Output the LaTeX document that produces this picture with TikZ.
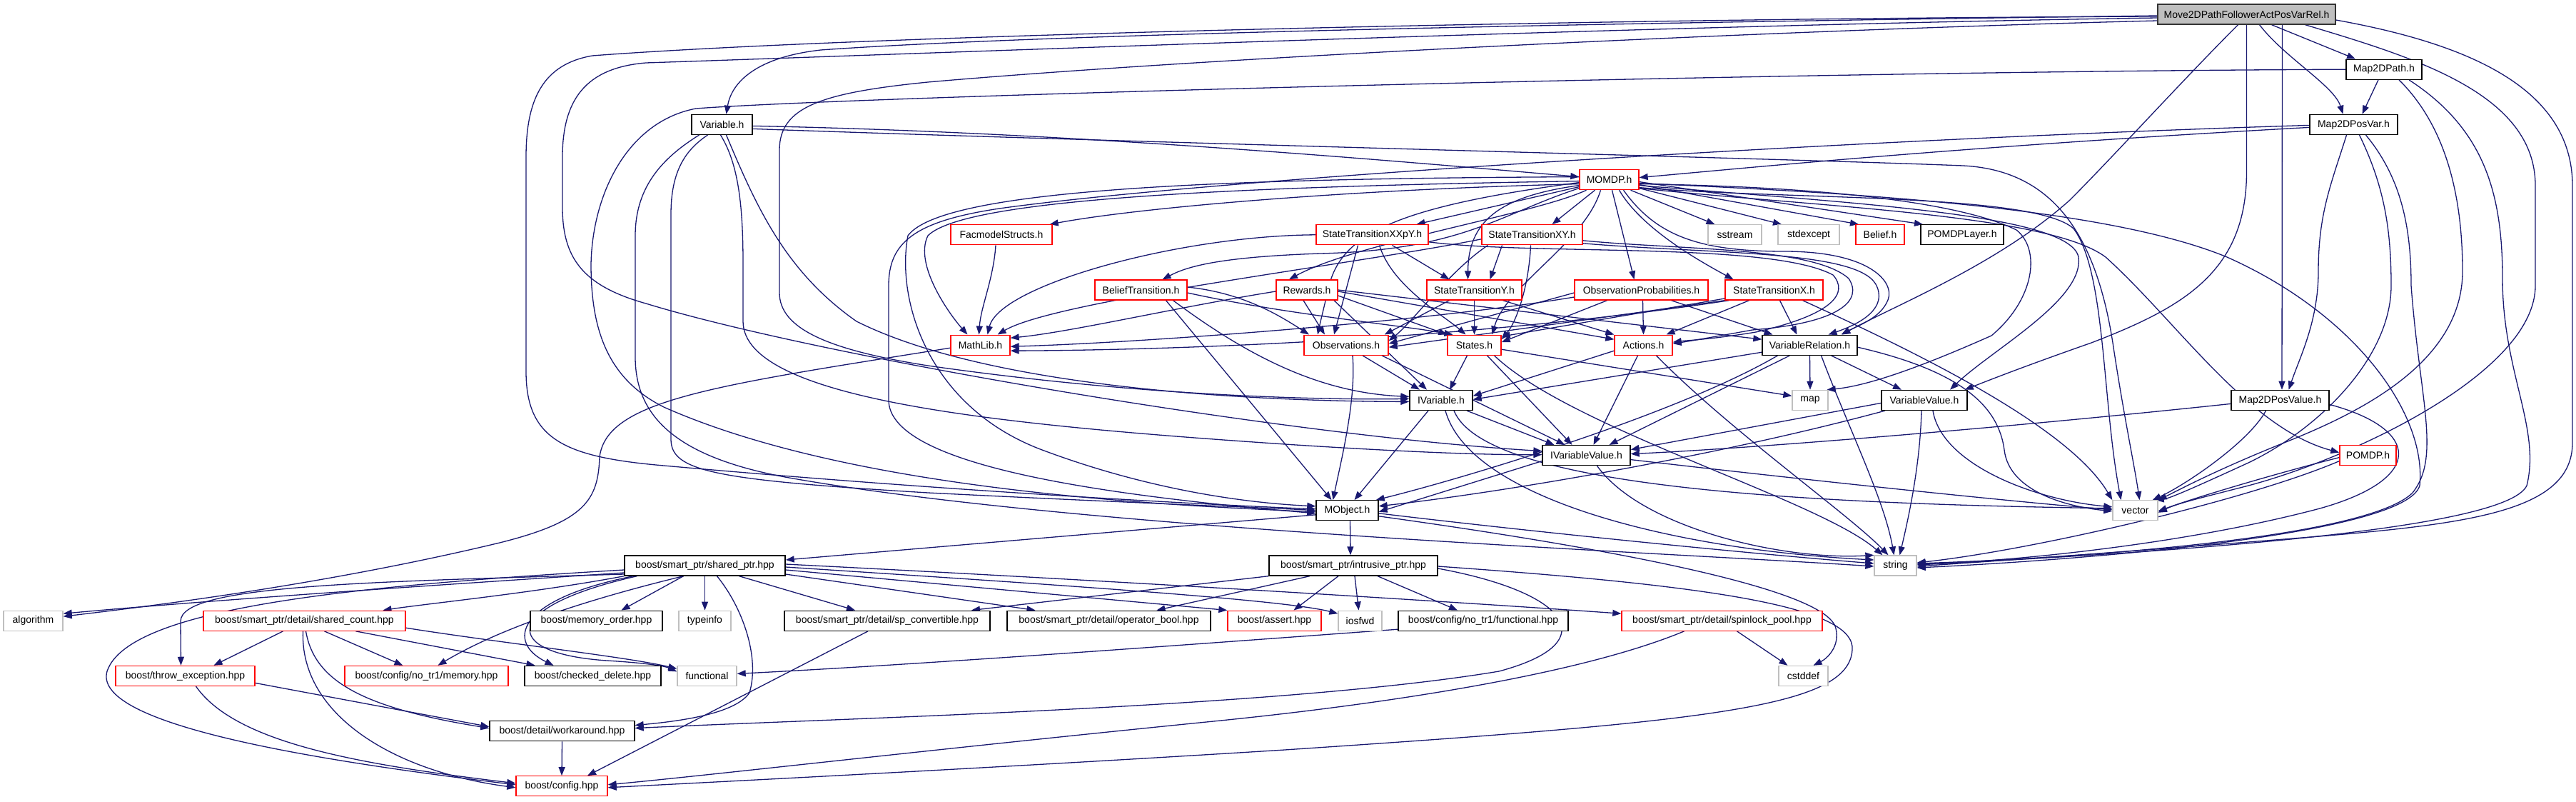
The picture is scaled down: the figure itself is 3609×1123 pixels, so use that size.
\documentclass[tikz,border=0pt]{standalone}
\usepackage{fontspec}
\setmainfont{Liberation Sans}
\usetikzlibrary{arrows.meta}
\definecolor{edgec}{HTML}{191970}
\definecolor{redc}{HTML}{FF0000}
\definecolor{grayc}{HTML}{BFBFBF}
\pgfdeclarelayer{bg}
\pgfsetlayers{bg,main}
\tikzset{
 nbox/.style={draw=black, line width=1.35pt, fill=white, minimum height=28pt, inner sep=0pt, font=\fontsize{14}{16}\selectfont},
 rbox/.style={nbox, draw=redc},
 gbox/.style={nbox, draw=grayc},
 mbox/.style={nbox, fill=grayc, draw=black!80},
 edg/.style={draw=edgec, line width=1.3pt, -{Triangle[length=12pt,width=9pt]}},
}
\begin{document}
\begin{tikzpicture}[x=1pt,y=-1pt]
\useasboundingbox (0,0) rectangle (3609,1123);
% nodes
\node[mbox, minimum width=249pt] (M) at (3147.5,20) {Move2DPathFollowerActPosVarRel.h};
\node[nbox, minimum width=106pt] (MP) at (3340,97.2) {Map2DPath.h};
\node[nbox, minimum width=123pt] (MPV) at (3297.5,174.4) {Map2DPosVar.h};
\node[nbox, minimum width=85pt] (V) at (1011.5,174.4) {Variable.h};
\node[rbox, minimum width=83pt] (MOMDP) at (2254.5,251.6) {MOMDP.h};
\node[rbox, minimum width=142pt] (FS) at (1403,328.8) {FacmodelStructs.h};
\node[rbox, minimum width=157pt] (STXXpY) at (1922.5,328.8) {StateTransitionXXpY.h};
\node[rbox, minimum width=141pt] (STXY) at (2146.5,328.8) {StateTransitionXY.h};
\node[gbox, minimum width=75pt] (sstream) at (2430.5,328.8) {sstream};
\node[gbox, minimum width=86pt] (stdexcept) at (2534,328.8) {stdexcept};
\node[rbox, minimum width=68pt] (Belief) at (2634,328.8) {Belief.h};
\node[nbox, minimum width=116pt] (PL) at (2749,328.8) {POMDPLayer.h};
\node[rbox, minimum width=129pt] (BT) at (1598.5,406) {BeliefTransition.h};
\node[rbox, minimum width=86pt] (Rew) at (1831,406) {Rewards.h};
\node[rbox, minimum width=133pt] (STY) at (2065.5,406) {StateTransitionY.h};
\node[rbox, minimum width=187pt] (OP) at (2299.5,406) {ObservationProbabilities.h};
\node[rbox, minimum width=137pt] (STX) at (2485.5,406) {StateTransitionX.h};
\node[rbox, minimum width=83pt] (ML) at (1373.5,483.2) {MathLib.h};
\node[rbox, minimum width=118pt] (Obs) at (1886,483.2) {Observations.h};
\node[rbox, minimum width=75pt] (St) at (2065.5,483.2) {States.h};
\node[rbox, minimum width=81pt] (Act) at (2302.5,483.2) {Actions.h};
\node[nbox, minimum width=133pt] (VR) at (2535.5,483.2) {VariableRelation.h};
\node[nbox, minimum width=88pt] (IV) at (2019,560.4) {IVariable.h};
\node[gbox, minimum width=50pt] (map) at (2536,560.4) {map};
\node[nbox, minimum width=120pt] (VV) at (2696,560.4) {VariableValue.h};
\node[nbox, minimum width=137pt] (MPVal) at (3194.5,560.4) {Map2DPosValue.h};
\node[nbox, minimum width=123pt] (IVV) at (2222.5,637.6) {IVariableValue.h};
\node[rbox, minimum width=79pt] (POMDP) at (3317.5,637.6) {POMDP.h};
\node[nbox, minimum width=87pt] (MO) at (1887.5,714.8) {MObject.h};
\node[gbox, minimum width=63pt] (vector) at (2991.5,714.8) {vector};
\node[nbox, minimum width=225pt] (SP) at (987.5,792) {boost/smart\_ptr/shared\_ptr.hpp};
\node[nbox, minimum width=236pt] (IP) at (1896,792) {boost/smart\_ptr/intrusive\_ptr.hpp};
\node[gbox, minimum width=59pt] (string) at (2655.5,792) {string};
\node[gbox, minimum width=83pt] (algorithm) at (46.5,869.2) {algorithm};
\node[rbox, minimum width=283pt] (SC) at (426.5,869.2) {boost/smart\_ptr/detail/shared\_count.hpp};
\node[nbox, minimum width=185pt] (MemO) at (835.5,869.2) {boost/memory\_order.hpp};
\node[gbox, minimum width=73pt] (typeinfo) at (987.5,869.2) {typeinfo};
\node[nbox, minimum width=288pt] (SPC) at (1243,869.2) {boost/smart\_ptr/detail/sp\_convertible.hpp};
\node[nbox, minimum width=285pt] (OB) at (1553.5,869.2) {boost/smart\_ptr/detail/operator\_bool.hpp};
\node[rbox, minimum width=131pt] (assert) at (1785.5,869.2) {boost/assert.hpp};
\node[gbox, minimum width=61pt] (iosfwd) at (1905.5,869.2) {iosfwd};
\node[nbox, minimum width=238pt] (NTF) at (2078,869.2) {boost/config/no\_tr1/functional.hpp};
\node[rbox, minimum width=281pt] (SPP) at (2412.5,869.2) {boost/smart\_ptr/detail/spinlock\_pool.hpp};
\node[rbox, minimum width=195pt] (TE) at (259.5,946.4) {boost/throw\_exception.hpp};
\node[rbox, minimum width=229pt] (NTM) at (597.5,946.4) {boost/config/no\_tr1/memory.hpp};
\node[nbox, minimum width=191pt] (CD) at (830.5,946.4) {boost/checked\_delete.hpp};
\node[gbox, minimum width=83pt] (functional) at (990.5,946.4) {functional};
\node[gbox, minimum width=69pt] (cstddef) at (2526.5,946.4) {cstddef};
\node[nbox, minimum width=203pt] (WA) at (787.5,1023.6) {boost/detail/workaround.hpp};
\node[rbox, minimum width=128pt] (config) at (787,1100.8) {boost/config.hpp};

\begin{pgfonlayer}{bg}
\fill[white] (0,0) rectangle (3609,1123);
% ---- Move2D
\draw[edg] ([xshift=35]M.south) -- ([xshift=-40]MP.north);
\draw[edg] ([xshift=18]M.south) .. controls (3200,80) and (3270,120) .. ([xshift=-15]MPV.north);
\draw[edg] ([xshift=-8]MP.south) -- ([xshift=12]MPV.north);
\draw[edg] ([yshift=-2]M.west) .. controls (2400,30) and (1500,45) .. (1150,70) .. controls (1060,80) and (1025,115) .. ([xshift=6]V.north);
\draw[edg] ([yshift=-3]M.west) .. controls (2200,26) and (1200,50) .. (830,78) .. controls (760,90) and (737,140) .. (737,220) -- (737,520) .. controls (737,615) and (790,640) .. (930,652) .. controls (1300,685) and (1650,705) .. ([yshift=2]MO.west);
\draw[edg] ([yshift=-5]M.west) .. controls (2300,36) and (1300,75) .. (905,88) .. controls (820,95) and (788,140) .. (788,220) -- (788,290) .. controls (788,360) and (815,400) .. (905,425) .. controls (1150,500) and (1800,610) .. ([yshift=6]IVV.west);
\draw[edg] ([yshift=-9]M.west) .. controls (2500,42) and (1700,80) .. (1300,115) .. controls (1150,130) and (1092,150) .. (1092,210) -- (1092,410) .. controls (1092,460) and (1160,490) .. (1300,512) .. controls (1600,555) and (1850,560) .. ([yshift=2]IV.west);
\draw[edg] (MP.west) .. controls (2500,100) and (1200,135) .. (975,152) .. controls (880,170) and (830,270) .. (828,370) .. controls (828,460) and (850,530) .. (930,570) .. controls (1200,690) and (1650,708) .. ([yshift=-2]MO.west);
\draw[edg] ([xshift=-12]M.south) .. controls (3060,110) and (2960,220) .. (2900,280) .. controls (2800,370) and (2650,430) .. ([xshift=45]VR.north);
\draw[edg] (M.south) -- (3147.5,240) .. controls (3147.5,380) and (3060,430) .. (2930,480) .. controls (2830,515) and (2780,535) .. ([xshift=-4]VV.north east);
\draw[edg] ([xshift=50]M.south) -- ([xshift=2.5]MPVal.north);
\draw[edg] ([xshift=82]M.south) .. controls (3380,80) and (3552,130) .. (3552,260) -- (3552,400) .. controls (3552,520) and (3300,640) .. (3150,680) .. controls (3080,698) and (3050,705) .. ([yshift=-3]vector.east);
\draw[edg] ([yshift=-8]M.east) .. controls (3450,60) and (3604,120) .. (3604,260) -- (3604,620) .. controls (3604,720) and (3450,735) .. (3200,755) .. controls (2950,775) and (2760,788) .. ([yshift=-1]string.east);
% ---- Map2DPath
\draw[edg] ([xshift=21]MP.south) .. controls (3420,170) and (3450,260) .. (3450,380) .. controls (3450,510) and (3300,580) .. (3200,620) .. controls (3100,660) and (3045,690) .. (vector.north east);
\draw[edg] ([xshift=35]MP.south) .. controls (3480,180) and (3506,270) .. (3506,390) .. controls (3506,520) and (3560,600) .. (3540,680) .. controls (3510,745) and (3000,775) .. ([yshift=1]string.east);
% ---- Map2DPosVar
\draw[edg] ([yshift=-4]MPV.west) .. controls (2750,205) and (2450,235) .. ([yshift=3]MOMDP.east);
\draw[edg] ([yshift=-1]MPV.west) .. controls (2600,195) and (1700,250) .. (1400,292) .. controls (1280,310) and (1245,340) .. (1245,400) -- (1245,560) .. controls (1245,645) and (1500,690) .. ([yshift=-4]MO.west);
\draw[edg] ([xshift=-10]MPV.south) .. controls (3265,260) and (3248,300) .. (3248,380) .. controls (3248,450) and (3222,500) .. ([xshift=12]MPVal.north);
\draw[edg] ([xshift=8]MPV.south) .. controls (3340,260) and (3350,320) .. (3350,400) .. controls (3350,500) and (3250,600) .. (3150,648) .. controls (3080,680) and (3040,698) .. ([xshift=-4]vector.north east);
\draw[edg] ([xshift=17]MPV.south) .. controls (3365,250) and (3378,320) .. (3378,400) .. controls (3390,560) and (3420,640) .. (3380,690) .. controls (3320,750) and (2950,780) .. ([yshift=3]string.east);
% ---- Map2DPosValue, POMDP
\draw[edg] ([yshift=-5]MPVal.west) .. controls (2800,600) and (2450,628) .. ([yshift=2]IVV.east);
\draw[edg] ([xshift=-20]MPVal.south) .. controls (3150,620) and (3060,680) .. ([xshift=-8]vector.north east);
\draw[edg] ([yshift=-6]MPVal.east) .. controls (3390,600) and (3400,670) .. (3250,712) .. controls (3050,765) and (2800,787) .. ([yshift=2]string.east);
\draw[edg] ([yshift=-3]POMDP.west) .. controls (3200,660) and (3080,695) .. ([yshift=-1]vector.east);
\draw[edg] ([yshift=-8]POMDP.west) .. controls (3150,700) and (2850,770) .. ([yshift=4]string.east);
% ---- Variable.h
\draw[edg] ([yshift=-2]V.east) .. controls (1500,185) and (1950,225) .. ([yshift=4]MOMDP.west);
\draw[edg] ([yshift=-6]V.east) .. controls (1600,200) and (2500,222) .. (2750,232) .. controls (2870,238) and (2935,320) .. (2960,480) .. controls (2975,580) and (2990,650) .. ([xshift=6]vector.north);
\draw[edg] ([xshift=6]V.south) .. controls (1060,290) and (1100,380) .. (1200,450) .. controls (1400,550) and (1800,562) .. ([yshift=-2]IV.west);
\draw[edg] ([xshift=-2]V.south) .. controls (1035,230) and (1041,290) .. (1041,370) -- (1041,450) .. controls (1041,560) and (1400,595) .. (1800,622) .. controls (2000,635) and (2100,637) .. ([yshift=1]IVV.west);
\draw[edg] ([xshift=-20]V.south) .. controls (960,210) and (940,240) .. (940,300) -- (940,615) .. controls (940,660) and (1000,672) .. (1300,690) .. controls (1600,705) and (1800,712) .. (MO.west);
\draw[edg] ([xshift=-32]V.south) .. controls (930,220) and (890,260) .. (890,330) -- (890,500) .. controls (890,585) and (950,640) .. (1100,668) .. controls (1500,740) and (2300,772) .. ([yshift=-1]string.west);
% ---- MOMDP.h
\draw[edg] ([yshift=-6]MOMDP.west) .. controls (1900,265) and (1600,290) .. ([xshift=-4]FS.north east);
\draw[edg] ([yshift=-10]MOMDP.west) -- ([xshift=62]STXXpY.north);
\draw[edg] ([xshift=-20]MOMDP.south) -- ([xshift=28]STXY.north);
\draw[edg] ([xshift=30]MOMDP.south) -- ([xshift=-28]sstream.north);
\draw[edg] ([yshift=-12]MOMDP.east) -- ([xshift=-38]stdexcept.north);
\draw[edg] ([yshift=-7]MOMDP.east) -- ([xshift=-30]Belief.north);
\draw[edg] ([yshift=-3]MOMDP.east) -- ([xshift=-55]PL.north);
\draw[edg] ([yshift=-2]MOMDP.west) .. controls (1700,262) and (1350,280) .. (1300,330) .. controls (1280,370) and (1330,440) .. ([xshift=-18]ML.north);
\draw[edg] ([yshift=-12]MOMDP.west) .. controls (2100,300) and (2050,350) .. (1850,355) .. controls (1700,360) and (1660,375) .. ([xshift=30]BT.north);
\draw[edg] ([xshift=-32]MOMDP.south) .. controls (2150,300) and (1900,340) .. ([xshift=-25]Rew.north);
\draw[edg] ([yshift=-8]MOMDP.west) .. controls (2100,275) and (2057,310) .. ([xshift=-9]STY.north);
\draw[edg] ([xshift=4]MOMDP.south) -- ([xshift=-10]OP.north);
\draw[edg] ([xshift=14]MOMDP.south) .. controls (2300,320) and (2380,365) .. ([xshift=-57]STX.north);
\draw[edg] ([yshift=-4]MOMDP.west) .. controls (1950,290) and (1880,330) .. (1862,400) .. controls (1855,430) and (1850,450) .. ([xshift=-40]Obs.north);
\draw[edg] ([xshift=-12]MOMDP.south) .. controls (2220,340) and (2110,400) .. ([xshift=25]St.north);
\draw[edg] ([xshift=20]MOMDP.south) .. controls (2320,330) and (2380,352) .. (2500,352) .. controls (2620,352) and (2655,395) .. (2645,420) .. controls (2635,445) and (2605,455) .. ([xshift=44]VR.north);
\draw[edg] ([yshift=-6]MOMDP.east) .. controls (2600,262) and (2760,290) .. (2825,322) .. controls (2860,350) and (2850,420) .. (2790,470) .. controls (2700,510) and (2620,540) .. ([xshift=-2]map.north east);
\draw[edg] ([yshift=-11]MOMDP.east) .. controls (2500,280) and (2850,270) .. (2905,320) .. controls (2950,380) and (2945,560) .. ([xshift=-20]vector.north);
\draw[edg] ([yshift=-5]MOMDP.east) .. controls (2600,270) and (2950,290) .. (3120,360) .. controls (3300,440) and (3400,580) .. (3390,680) .. controls (3370,750) and (2900,785) .. ([yshift=-3]string.east);
\draw[edg] ([yshift=-12]MOMDP.east) .. controls (2550,290) and (2870,300) .. (2950,360) .. controls (3050,450) and (3150,600) .. ([yshift=4]POMDP.west);
\draw[edg] ([yshift=-8]MOMDP.east) .. controls (2600,285) and (2900,300) .. (2912,360) .. controls (2920,420) and (2790,490) .. ([xshift=36]VV.north);
\draw[edg] ([yshift=4]MOMDP.west) .. controls (1700,250) and (1320,265) .. (1272,330) .. controls (1255,420) and (1300,570) .. (1460,630) .. controls (1620,690) and (1760,705) .. ([yshift=6]MO.west);
% ---- FacmodelStructs
\draw[edg] ([xshift=-8]FS.south) .. controls (1392,390) and (1374,430) .. ([xshift=-2]ML.north);
% ---- StateTransitionXXpY
\draw[edg] (STXXpY.west) .. controls (1650,330) and (1400,400) .. ([xshift=10]ML.north);
\draw[edg] ([xshift=28]STXXpY.south) -- ([xshift=-35]STY.north);
\draw[edg] ([xshift=-20]STXXpY.south) -- ([xshift=-17]Obs.north);
\draw[edg] ([xshift=10]STXXpY.south) .. controls (1950,400) and (2020,440) .. ([xshift=-12]St.north);
\draw[edg] ([yshift=-10]STXXpY.east) .. controls (2150,358) and (2480,338) .. (2568,385) .. controls (2590,410) and (2570,440) .. (2460,465) .. controls (2400,475) and (2360,477) .. ([yshift=4]Act.east);
% ---- StateTransitionXY
\draw[edg] ([xshift=-42]STXY.south) -- ([xshift=22]STY.north);
\draw[edg] ([yshift=-6]STXY.west) .. controls (1900,370) and (1480,420) .. ([xshift=24]ML.north);
\draw[edg] ([xshift=-62]STXY.south) .. controls (2030,380) and (1980,450) .. ([yshift=6]Obs.east);
\draw[edg] ([xshift=-2]STXY.south) .. controls (2142,400) and (2125,450) .. ([yshift=8]St.east);
\draw[edg] ([yshift=-8]STXY.east) .. controls (2350,350) and (2540,345) .. (2590,390) .. controls (2610,420) and (2580,452) .. (2455,462) .. controls (2400,472) and (2365,478) .. ([yshift=2]Act.east);
\draw[edg] ([yshift=-12]STXY.east) .. controls (2400,356) and (2600,350) .. (2628,398) .. controls (2645,430) and (2610,452) .. ([xshift=26]VR.north);
% ---- BeliefTransition
\draw[edg] ([yshift=4]BT.east) .. controls (1740,410) and (1790,440) .. ([xshift=-52]Obs.north);
\draw[edg] ([yshift=-4]BT.east) .. controls (1800,440) and (1960,455) .. ([xshift=-30]St.north);
\draw[edg] ([xshift=45]BT.south) .. controls (1750,500) and (1850,550) .. ([yshift=5]IV.west);
\draw[edg] ([xshift=35]BT.south) -- ([xshift=-22]MO.north);
% ---- Rewards
\draw[edg] ([yshift=-2]Rew.west) .. controls (1650,430) and (1500,465) .. ([yshift=10]ML.east);
\draw[edg] ([xshift=-5]Rew.south) -- ([xshift=-30]Obs.north);
\draw[edg] ([yshift=-8]Rew.east) -- (St.north west);
\draw[edg] ([yshift=-2]Rew.east) -- ([yshift=8]Act.west);
\draw[edg] (Rew.east) -- ([yshift=8]VR.west);
\draw[edg] ([xshift=38]Rew.south) -- ([xshift=-20]IV.north);
% ---- StateTransitionY
\draw[edg] ([xshift=-35]STY.south) -- ([xshift=-6]Obs.north east);
\draw[edg] (STY.south) -- (St.north);
\draw[edg] ([xshift=40]STY.south) -- (Act.north west);
% ---- ObservationProbabilities
\draw[edg] ([yshift=-4]OP.west) -- ([yshift=2]Obs.east);
\draw[edg] ([xshift=-48]OP.south) -- ([yshift=4]St.east);
\draw[edg] ([xshift=2]OP.south) -- (Act.north);
\draw[edg] ([xshift=42]OP.south) -- ([xshift=-52]VR.north);
\draw[edg] ([yshift=-10]OP.west) .. controls (2000,450) and (1600,480) .. ([yshift=-2]ML.east);
% ---- StateTransitionX
\draw[edg] (STX.south west) -- ([yshift=-3]Obs.east);
\draw[edg] ([yshift=-12]STX.west) -- ([yshift=12]St.east);
\draw[edg] ([xshift=-35]STX.south) -- ([xshift=32]Act.north);
\draw[edg] ([xshift=8]STX.south) -- ([xshift=-18]VR.north);
\draw[edg] ([xshift=40]STX.south) .. controls (2700,500) and (2900,600) .. (vector.north west);
\draw[edg] ([xshift=6]STX.south west) .. controls (2100,470) and (1700,490) .. ([yshift=-8]ML.east);
% ---- Observations
\draw[edg] ([xshift=23]Obs.south) -- ([xshift=-30]IV.north);
\draw[edg] ([xshift=50]Obs.south) -- ([xshift=-30]IVV.north);
\draw[edg] ([xshift=9]Obs.south) .. controls (1900,560) and (1880,640) .. ([xshift=-20]MO.north);
% ---- States
\draw[edg] ([xshift=-10]St.south) -- ([xshift=12]IV.north);
\draw[edg] ([xshift=18]St.south) -- ([xshift=-20]IVV.north);
\draw[edg] ([yshift=-6]St.east) -- ([yshift=6]map.west);
\draw[edg] ([xshift=28]St.south) .. controls (2200,600) and (2550,700) .. ([xshift=-18]string.north);
% ---- Actions
\draw[edg] ([yshift=-8]Act.west) -- ([yshift=6]IV.east);
\draw[edg] ([xshift=-8]Act.south) -- ([xshift=10]IVV.north);
\draw[edg] ([xshift=18]Act.south) .. controls (2420,600) and (2590,720) .. ([xshift=-10]string.north);
% ---- VariableRelation
\draw[edg] ([yshift=-10]VR.west) -- ([yshift=1]IV.east);
\draw[edg] ([xshift=-45]VR.south) .. controls (2350,580) and (2050,670) .. ([xshift=-4]MO.north east);
\draw[edg] ([xshift=-28]VR.south) -- ([xshift=32]IVV.north);
\draw[edg] (VR.south) -- (map.north);
\draw[edg] ([xshift=30]VR.south) -- ([xshift=-32]VV.north);
\draw[edg] ([xshift=16]VR.south) .. controls (2590,600) and (2640,700) .. ([xshift=-2]string.north);
\draw[edg] ([yshift=-3]VR.east) .. controls (2750,520) and (2800,570) .. (2808,630) .. controls (2815,690) and (2900,710) .. ([yshift=-1]vector.west);
% ---- IVariable
\draw[edg] ([xshift=-18]IV.south) -- ([xshift=10]MO.north);
\draw[edg] ([xshift=36]IV.south) -- ([xshift=-45]IVV.north);
\draw[edg] ([xshift=6]IV.south) .. controls (2060,700) and (2350,770) .. ([yshift=8]string.west);
\draw[edg] ([xshift=18]IV.south) .. controls (2080,680) and (2500,705) .. ([yshift=3]vector.west);
% ---- IVariableValue
\draw[edg] ([yshift=-8]IVV.west) -- ([yshift=-2]MO.east);
\draw[edg] ([xshift=15]IVV.south) .. controls (2300,740) and (2500,785) .. (string.north west);
\draw[edg] ([yshift=-6]IVV.east) .. controls (2600,680) and (2850,705) .. ([yshift=1]vector.west);
% ---- VariableValue
\draw[edg] ([yshift=-4]VV.west) -- ([yshift=8]IVV.east);
\draw[edg] ([xshift=-55]VV.south) .. controls (2400,640) and (2100,690) .. ([yshift=6]MO.east);
\draw[edg] ([xshift=-4]VV.south) .. controls (2690,650) and (2675,720) .. ([xshift=6]string.north);
\draw[edg] ([xshift=12]VV.south) .. controls (2720,650) and (2850,700) .. ([yshift=5]vector.west);
% ---- MObject
\draw[edg] ([yshift=-6]MO.west) -- ([yshift=8]SP.east);
\draw[edg] ([xshift=4]MO.south) -- ([xshift=-4]IP.north);
\draw[edg] ([yshift=-4]MO.east) .. controls (2150,745) and (2450,775) .. ([yshift=3]string.west);
\draw[edg] ([yshift=-8]MO.east) .. controls (2200,760) and (2560,820) .. (2572,880) .. controls (2578,905) and (2560,922) .. ([xshift=14]cstddef.north);
% ---- MathLib
\draw[edg] ([yshift=-4]ML.west) .. controls (1000,540) and (850,560) .. (840,640) .. controls (838,700) and (820,730) .. (700,760) .. controls (450,820) and (200,850) .. ([yshift=6]algorithm.east);
% ---- shared_ptr
\draw[edg] ([yshift=-10]SP.west) .. controls (600,820) and (300,840) .. ([yshift=10]algorithm.east);
\draw[edg] (SP.south west) .. controls (750,830) and (600,845) .. ([xshift=110]SC.north);
\draw[edg] ([yshift=-12]SP.west) .. controls (500,815) and (253,820) .. (253,870) -- ([xshift=-6]TE.north);
\draw[edg] ([yshift=-6]SP.west) .. controls (500,820) and (180,850) .. (150,940) .. controls (130,1010) and (400,1060) .. ([yshift=2]config.west);
\draw[edg] ([xshift=-30]SP.south) .. controls (820,840) and (700,880) .. ([xshift=16]NTM.north);
\draw[edg] ([xshift=-100]SP.south) .. controls (720,840) and (710,900) .. ([xshift=-55]CD.north);
\draw[edg] ([xshift=-95]SP.south) .. controls (700,850) and (700,915) .. (850,925) .. controls (900,928) and (930,932) .. ([yshift=6]functional.west);
\draw[edg] ([xshift=-30]SP.south) -- ([xshift=35]MemO.north);
\draw[edg] (SP.south) -- (typeinfo.north);
\draw[edg] ([xshift=17]SP.south) .. controls (1040,850) and (1065,920) .. (1050,970) .. controls (1030,1000) and (950,1010) .. ([yshift=8]WA.east);
\draw[edg] ([xshift=48]SP.south) -- ([xshift=-45]SPC.north);
\draw[edg] ([yshift=-12]SP.east) -- ([xshift=-103]OB.north);
\draw[edg] ([yshift=-6]SP.east) -- (assert.north west);
\draw[edg] ([yshift=-2]SP.east) .. controls (1500,820) and (1800,840) .. ([yshift=10]iosfwd.west);
\draw[edg] ([yshift=2]SP.east) .. controls (1500,810) and (2000,840) .. ([yshift=10]SPP.west);
% ---- shared_count
\draw[edg] ([xshift=-30]SC.south) -- ([xshift=40]TE.north);
\draw[edg] ([xshift=28]SC.south) -- ([xshift=-33]NTM.north);
\draw[edg] ([xshift=72]SC.south) -- ([xshift=-81]CD.north);
\draw[edg] ([yshift=-10]SC.east) .. controls (700,900) and (880,920) .. ([yshift=10]functional.west);
\draw[edg] ([xshift=2]SC.south) .. controls (440,950) and (500,990) .. ([yshift=4]WA.west);
\draw[edg] ([xshift=-2]SC.south) .. controls (420,1000) and (550,1080) .. ([yshift=-2]config.west);
% ---- throw_exception, workaround
\draw[edg] ([yshift=-10]TE.east) -- ([yshift=6]WA.west);
\draw[edg] ([xshift=15]TE.south) .. controls (330,1040) and (500,1070) .. ([yshift=4]config.west);
\draw[edg] (WA.south) -- (config.north);
% ---- intrusive_ptr
\draw[edg] ([xshift=-21]IP.south) -- ([xshift=27]assert.north);
\draw[edg] ([xshift=2]IP.south) -- ([xshift=-2]iosfwd.north);
\draw[edg] ([xshift=34]IP.south) -- ([xshift=-36]NTF.north);
\draw[edg] (IP.south west) -- ([xshift=118]SPC.north);
\draw[edg] ([xshift=-61]IP.south) -- ([xshift=67]OB.north);
\draw[edg] ([yshift=-4]IP.east) .. controls (2200,830) and (2250,900) .. (2100,940) .. controls (1800,990) and (1200,1005) .. ([yshift=4]WA.east);
\draw[edg] ([yshift=-1]IP.east) .. controls (2400,820) and (2600,850) .. (2595,910) .. controls (2590,990) and (2400,1010) .. (1800,1050) .. controls (1400,1075) and (1000,1095) .. ([yshift=-2]config.east);
% ---- others
\draw[edg] ([xshift=-27]SPC.south) -- ([xshift=36]config.north);
\draw[edg] ([xshift=21]SPP.south) -- ([xshift=-22]cstddef.north);
\draw[edg] ([xshift=-53]SPP.south) .. controls (2200,950) and (1900,990) .. (1700,1010) .. controls (1300,1050) and (1000,1085) .. ([yshift=2]config.east);
\draw[edg] ([yshift=-12]NTF.west) .. controls (1700,900) and (1300,930) .. ([yshift=3]functional.east);
\end{pgfonlayer}
\end{tikzpicture}
\end{document}
